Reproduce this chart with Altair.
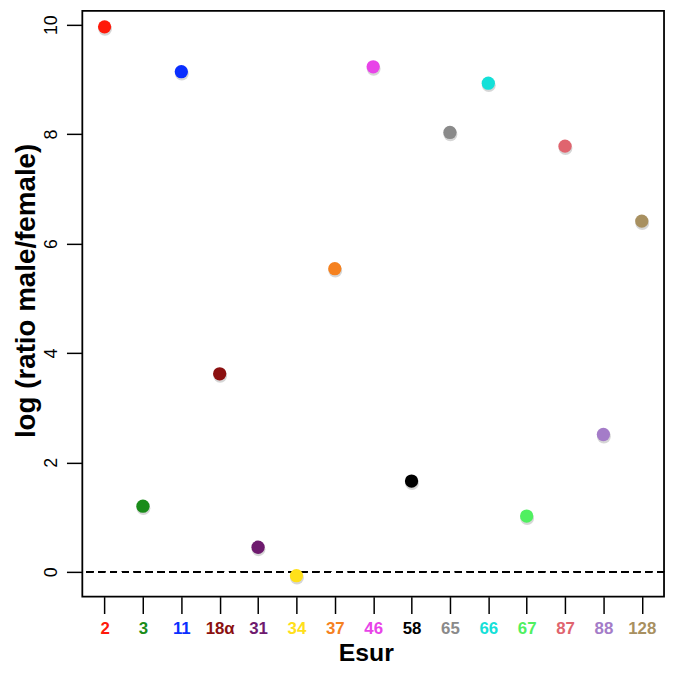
import altair as alt
import pandas as pd

categories = ["2", "3", "11", "18α", "31", "34", "37", "46", "58", "65", "66", "67", "87", "88", "128"]
ratios = [9.96, 1.20, 9.14, 3.62, 0.45, -0.07, 5.54, 9.23, 1.66, 8.03, 8.93, 1.02, 7.78, 2.51, 6.41]
colors = ["#FF1A0A", "#1A8C1A", "#0A2EFF", "#8B1010", "#6E1A6E", "#FFE01A", "#F5811F", "#E844E8",
          "#000000", "#8A8A8A", "#14E0D8", "#50F060", "#E0646E", "#A47CC8", "#A89060"]
y_ticks = [0, 2, 4, 6, 8, 10]

df = pd.DataFrame({"Esur": categories, "ratio": ratios})

FONT = "Liberation Sans"

label_color = {
    "condition": [{"test": f"datum.value === '{c}'", "value": col} for c, col in zip(categories, colors)],
    "value": "black",
}

x_enc = alt.X(
    "Esur:N",
    sort=categories,
    scale=alt.Scale(type="point", padding=0.58),
    axis=alt.Axis(
        title="Esur",
        titleFontSize=25,
        titleFontWeight="bold",
        titleFont=FONT,
        titleColor="black",
        titleX=286,
        titleY=64,
        titleBaseline="alphabetic",
        titleAlign="center",
        labelFont=FONT,
        labelFontSize=17,
        labelFontWeight="bold",
        labelAngle=0,
        labelBaseline="alphabetic",
        labelPadding=20,
        labelColor=label_color,
        tickSize=17,
        tickWidth=1.5,
        tickColor="black",
        domain=False,
        grid=False,
    ),
)

y_enc = alt.Y(
    "ratio:Q",
    scale=alt.Scale(domain=[-0.453, 10.25], nice=False, zero=False),
    axis=alt.Axis(
        values=y_ticks,
        title="log (ratio male/female)",
        titleFontSize=28,
        titleFontWeight="bold",
        titleFont=FONT,
        titleColor="black",
        titleX=-48,
        titleY=282,
        titleAngle=270,
        titleBaseline="alphabetic",
        titleAlign="center",
        labelFont=FONT,
        labelFontSize=18,
        labelAngle=270,
        labelAlign="center",
        labelBaseline="alphabetic",
        labelPadding=10,
        labelColor="black",
        tickSize=16,
        tickWidth=1.5,
        tickColor="black",
        domain=False,
        grid=False,
    ),
)

color_enc = alt.Color("Esur:N", scale=alt.Scale(domain=categories, range=colors), legend=None)

base = alt.Chart(df)

shadow = base.mark_circle(size=195, opacity=0.22, color="#444444", yOffset=2, xOffset=0.5).encode(
    x=x_enc, y=y_enc
)

zero_line = base.mark_rule(strokeDash=[7, 5], color="black", strokeWidth=1.5).encode(
    y=alt.datum(0)
)

points = base.mark_circle(size=180, opacity=1).encode(x=x_enc, y=y_enc, color=color_enc)

chart = (
    alt.layer(shadow, zero_line, points)
    .properties(
        width=587,
        height=591,
        background="white",
        autosize=alt.AutoSizeParams(type="none"),
        padding={"left": 75, "top": 0, "right": 3, "bottom": 70},
    )
    .configure_view(stroke="black", strokeWidth=1.8)
)

chart.save("out.html", embed_options={"renderer": "svg", "actions": False})
